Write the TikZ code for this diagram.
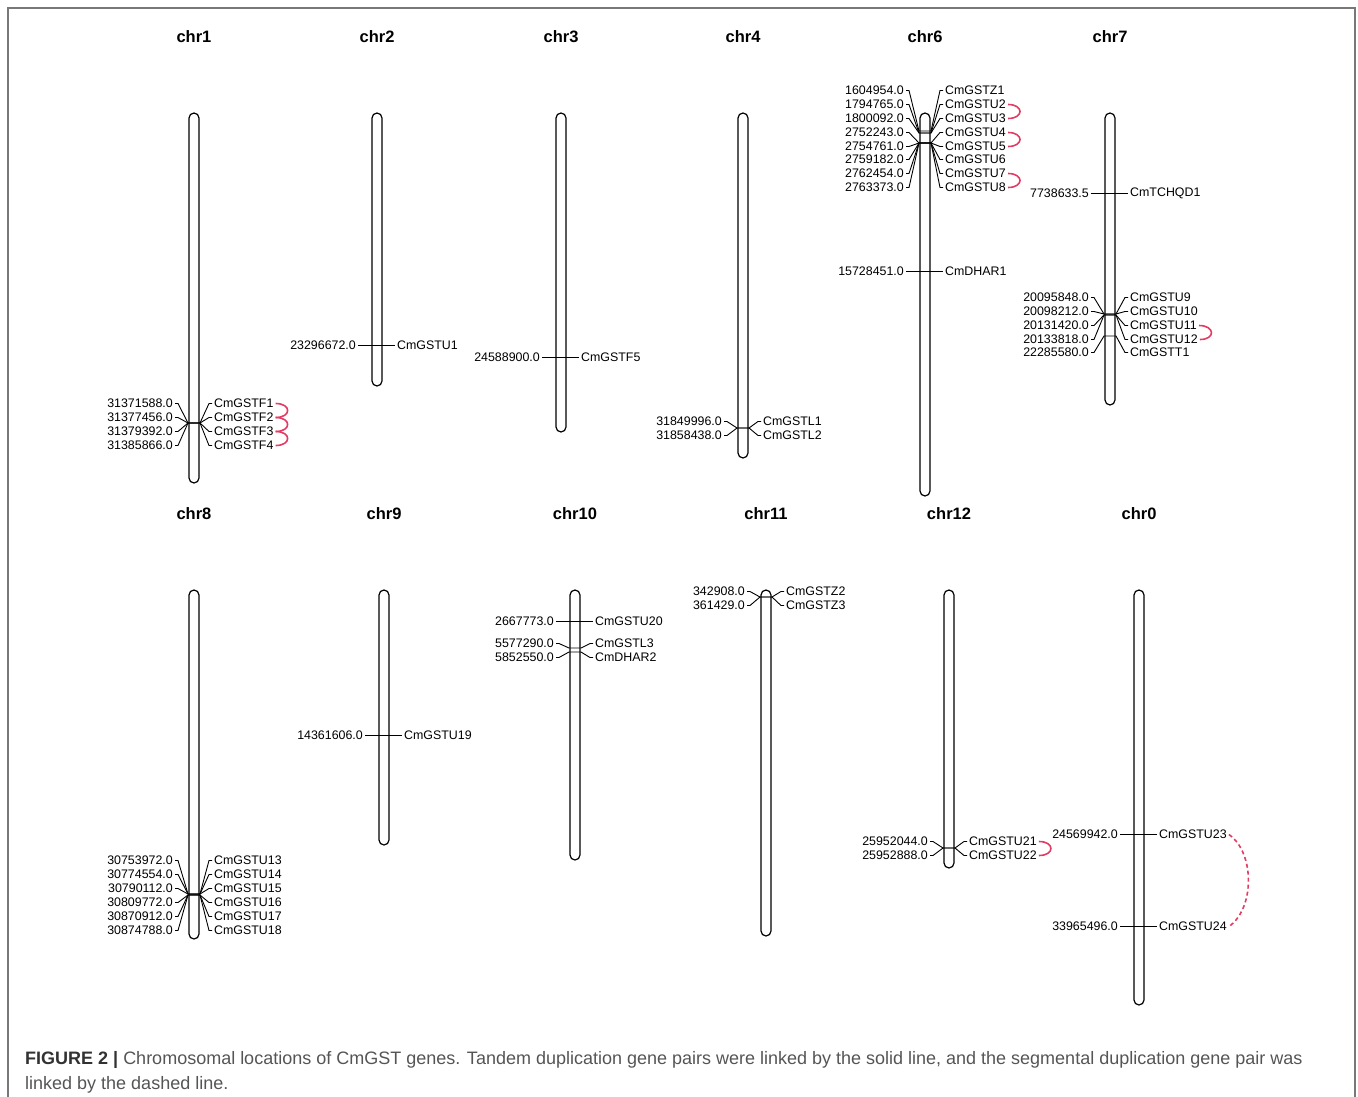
\documentclass[tikz,border=0pt]{standalone}
\usepackage{fontspec}
\setmainfont{Liberation Sans}
\usetikzlibrary{calc}
\definecolor{dupred}{RGB}{226,60,100}
\definecolor{framegray}{RGB}{120,120,120}
\definecolor{capgray}{RGB}{85,85,85}
\definecolor{capdark}{RGB}{50,50,50}
% #1 name, #2 chromosome x, #3 gene y on chromosome, #4 label y, #5 left text, #6 right text
\newcommand{\gfan}[6]{%
  \node[lbl,anchor=east] (#1l) at (#2-21,#4) {#5};
  \node[lbl,anchor=west] (#1r) at (#2+20,#4) {#6};
  \coordinate (#1a) at (#2-6,#3);
  \coordinate (#1b) at (#2+6,#3);
  \draw[tick] ($(#1l.east)+(2,0)$) -- ++(3,0) -- (#1a) -- (#1b) -- ($(#1r.west)+(-5,0)$) -- ++(3,0);
}
\newcommand{\duparc}[2]{%
  \draw[dup] ($(#1r.east)+(2,0)$) .. controls +(16,0) and +(16,0) .. ($(#2r.east)+(2,0)$);
}
\begin{document}
\begin{tikzpicture}[x=1pt,y=-1pt,
  lbl/.style={inner sep=0pt, font=\fontsize{12.4}{14}\selectfont},
  chrlbl/.style={inner sep=0pt, yshift=-1pt, font=\fontsize{16.5}{20}\selectfont\bfseries},
  chrom/.style={draw, line width=1.2pt, rounded corners=5pt, minimum width=10pt, inner sep=0pt},
  tick/.style={line width=0.9pt},
  dup/.style={dupred, line width=1.6pt},
  segdup/.style={dupred, line width=1.6pt, dash pattern=on 4pt off 3pt},
  caption/.style={anchor=base west, inner sep=0pt, font=\fontsize{18}{22}\selectfont, text=capgray}]
\useasboundingbox (0,0) rectangle (1358,1097);
\draw[framegray, line width=1.5pt] (8,1097) -- (8,8) -- (1355,8) -- (1355,1097);

% chromosome titles
\node[chrlbl] (t1) at (194,36) {chr1};
\node[chrlbl] (t2) at (377,36) {chr2};
\node[chrlbl] (t3) at (561,36) {chr3};
\node[chrlbl] (t4) at (743,36) {chr4};
\node[chrlbl] (t6) at (925,36) {chr6};
\node[chrlbl] (t7) at (1110,36) {chr7};
\node[chrlbl] (t8) at (194,513) {chr8};
\node[chrlbl] (t9) at (384,513) {chr9};
\node[chrlbl] (t10) at (575,513) {chr10};
\node[chrlbl] (t11) at (766,513) {chr11};
\node[chrlbl] (t12) at (949,513) {chr12};
\node[chrlbl] (t0) at (1139,513) {chr0};

% chromosomes
\node[chrom, minimum height=370pt] (ch1) at (194,298) {};
\node[chrom, minimum height=273pt] (ch2) at (377,249.5) {};
\node[chrom, minimum height=319pt] (ch3) at (561,272.5) {};
\node[chrom, minimum height=345pt] (ch4) at (743,285.5) {};
\node[chrom, minimum height=383pt] (ch6) at (925,304.5) {};
\node[chrom, minimum height=292pt] (ch7) at (1110,259) {};
\node[chrom, minimum height=349pt] (ch8) at (194,764.5) {};
\node[chrom, minimum height=255pt] (ch9) at (384,717.5) {};
\node[chrom, minimum height=270pt] (ch10) at (575,725) {};
\node[chrom, minimum height=346pt] (ch11) at (766,763) {};
\node[chrom, minimum height=278pt] (ch12) at (949,729) {};
\node[chrom, minimum height=415pt] (ch0) at (1139,797.5) {};

% chr1
\gfan{F1}{194}{423}{403.5}{31371588.0}{CmGSTF1}
\gfan{F2}{194}{423}{417.5}{31377456.0}{CmGSTF2}
\gfan{F3}{194}{423}{431.5}{31379392.0}{CmGSTF3}
\gfan{F4}{194}{423}{445.5}{31385866.0}{CmGSTF4}
\duparc{F1}{F2}
\duparc{F2}{F3}
\duparc{F3}{F4}
% chr2
\gfan{U1}{377}{345.5}{345.5}{23296672.0}{CmGSTU1}
% chr3
\gfan{F5}{561}{357.5}{357.5}{24588900.0}{CmGSTF5}
% chr4
\gfan{L1}{743}{428}{421.5}{31849996.0}{CmGSTL1}
\gfan{L2}{743}{428}{435.5}{31858438.0}{CmGSTL2}
% chr6
\gfan{Z1}{925}{131}{90.5}{1604954.0}{CmGSTZ1}
\gfan{U2}{925}{133}{104.5}{1794765.0}{CmGSTU2}
\gfan{U3}{925}{133}{118.5}{1800092.0}{CmGSTU3}
\gfan{U4}{925}{143}{132.5}{2752243.0}{CmGSTU4}
\gfan{U5}{925}{143}{146.5}{2754761.0}{CmGSTU5}
\gfan{U6}{925}{143}{159.5}{2759182.0}{CmGSTU6}
\gfan{U7}{925}{143}{173.5}{2762454.0}{CmGSTU7}
\gfan{U8}{925}{143}{187.5}{2763373.0}{CmGSTU8}
\gfan{D1}{925}{271.5}{271.5}{15728451.0}{CmDHAR1}
\duparc{U2}{U3}
\duparc{U4}{U5}
\duparc{U7}{U8}
% chr7
\gfan{Q1}{1110}{193.5}{193.5}{7738633.5}{CmTCHQD1}
\gfan{U9}{1110}{314}{297.5}{20095848.0}{CmGSTU9}
\gfan{U10}{1110}{314}{311.5}{20098212.0}{CmGSTU10}
\gfan{U11}{1110}{315}{325.5}{20131420.0}{CmGSTU11}
\gfan{U12}{1110}{315}{339.5}{20133818.0}{CmGSTU12}
\gfan{T1}{1110}{336}{352.5}{22285580.0}{CmGSTT1}
\duparc{U11}{U12}
% chr8
\gfan{U13}{194}{894}{860.5}{30753972.0}{CmGSTU13}
\gfan{U14}{194}{894}{874.5}{30774554.0}{CmGSTU14}
\gfan{U15}{194}{894}{888.5}{30790112.0}{CmGSTU15}
\gfan{U16}{194}{895}{902.5}{30809772.0}{CmGSTU16}
\gfan{U17}{194}{895}{916.5}{30870912.0}{CmGSTU17}
\gfan{U18}{194}{895}{930.5}{30874788.0}{CmGSTU18}
% chr9
\gfan{U19}{384}{735.5}{735.5}{14361606.0}{CmGSTU19}
% chr10
\gfan{U20}{575}{621.5}{621.5}{2667773.0}{CmGSTU20}
\gfan{L3}{575}{648}{643.5}{5577290.0}{CmGSTL3}
\gfan{D2}{575}{652}{657.5}{5852550.0}{CmDHAR2}
% chr11
\gfan{Z2}{766}{597}{591.5}{342908.0}{CmGSTZ2}
\gfan{Z3}{766}{597}{605.5}{361429.0}{CmGSTZ3}
% chr12
\gfan{U21}{949}{848}{841.5}{25952044.0}{CmGSTU21}
\gfan{U22}{949}{848}{855.5}{25952888.0}{CmGSTU22}
\duparc{U21}{U22}
% chr0
\gfan{U23}{1139}{834.5}{834.5}{24569942.0}{CmGSTU23}
\gfan{U24}{1139}{926.5}{926.5}{33965496.0}{CmGSTU24}
\draw[segdup] ($(U23r.east)+(2,0)$) .. controls +(26,18) and +(26,-18) .. ($(U24r.east)+(2,0)$);

% caption
\node[caption] (cap1) at (25,1064) {{\bfseries\color{capdark}FIGURE 2 |} Chromosomal locations of CmGST genes. Tandem duplication gene pairs were linked by the solid line, and the segmental duplication gene pair was};
\node[caption] (cap2) at (25,1089) {linked by the dashed line.};
\end{tikzpicture}
\end{document}
